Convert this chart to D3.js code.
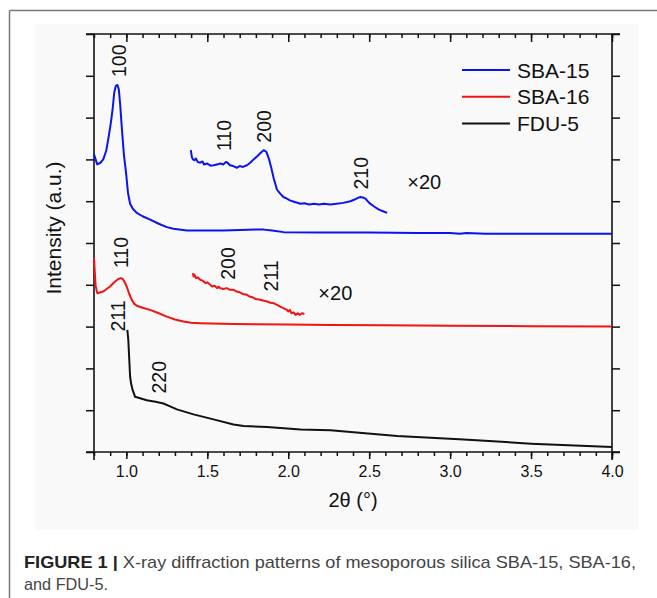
<!DOCTYPE html>
<meta charset="utf-8">
<style>
body { margin: 0; background: #fff; }
svg text { font-family: 'Liberation Sans', Arial, sans-serif; fill: #111; }
.caption { font-family: 'Liberation Sans', Arial, sans-serif; font-size: 17px; fill: #444; }
.caption .bold { font-weight: bold; fill: #222; }
</style>
<svg width="657" height="598"></svg>
<script src="https://cdn.jsdelivr.net/npm/d3@7"></script>
<script>

// SBA-15 (blue) main pattern
var sba15X = [0.80, 0.82, 0.84, 0.857, 0.875, 0.888, 0.905, 0.915, 0.925, 0.935, 0.945, 0.953, 0.962, 0.971, 0.985, 0.998, 1.01, 1.023, 1.04, 1.064, 1.10, 1.147, 1.20, 1.25, 1.291, 1.374, 1.50, 1.60, 1.70, 1.80, 1.85, 1.90, 1.972, 2.2, 2.5, 2.8, 3.0, 3.06, 3.1, 3.22, 3.5, 4.0];
var sba15Y = [7.12, 6.88, 6.92, 7.0, 7.2, 7.48, 7.9, 8.2, 8.6, 8.76, 8.78, 8.68, 8.3, 7.8, 7.1, 6.68, 6.2, 5.94, 5.82, 5.72, 5.64, 5.56, 5.46, 5.38, 5.34, 5.30, 5.30, 5.30, 5.31, 5.32, 5.32, 5.30, 5.26, 5.25, 5.25, 5.24, 5.24, 5.22, 5.24, 5.22, 5.22, 5.22];

// SBA-15 x20 inset
var sba15InsetX = [1.398, 1.405, 1.411, 1.42, 1.43, 1.44, 1.456, 1.47, 1.48, 1.50, 1.52, 1.538, 1.56, 1.58, 1.60, 1.615, 1.625, 1.64, 1.66, 1.683, 1.70, 1.72, 1.745, 1.765, 1.786, 1.81, 1.83, 1.848, 1.865, 1.88, 1.895, 1.91, 1.93, 1.95, 1.97, 1.992, 2.01, 2.04, 2.076, 2.10, 2.13, 2.16, 2.19, 2.22, 2.26, 2.30, 2.34, 2.384, 2.41, 2.43, 2.446, 2.46, 2.477, 2.50, 2.528, 2.56, 2.585, 2.611];
var sba15InsetY = [7.22, 7.05, 7.0, 6.98, 7.02, 6.94, 6.92, 6.95, 6.88, 6.90, 6.85, 6.86, 6.88, 6.90, 6.88, 6.94, 6.92, 6.86, 6.84, 6.80, 6.84, 6.82, 6.86, 6.92, 7.0, 7.08, 7.16, 7.22, 7.18, 7.02, 6.80, 6.55, 6.28, 6.18, 6.10, 6.06, 6.02, 5.98, 5.94, 5.95, 5.92, 5.94, 5.92, 5.94, 5.92, 5.94, 5.96, 6.0, 6.04, 6.08, 6.1, 6.09, 6.06, 5.96, 5.88, 5.80, 5.76, 5.72];

// SBA-16 (red) main pattern
var sba16X = [0.80, 0.805, 0.81, 0.82, 0.84, 0.857, 0.878, 0.899, 0.925, 0.95, 0.965, 0.978, 0.99, 1.002, 1.018, 1.033, 1.048, 1.064, 1.10, 1.147, 1.20, 1.25, 1.30, 1.353, 1.40, 1.456, 1.662, 2.0, 2.26, 2.6, 3.0, 3.5, 4.0];
var sba16Y = [4.64, 4.30, 3.98, 3.80, 3.82, 3.84, 3.90, 3.96, 4.06, 4.14, 4.16, 4.14, 4.06, 3.96, 3.78, 3.64, 3.55, 3.50, 3.45, 3.40, 3.32, 3.24, 3.17, 3.12, 3.09, 3.08, 3.06, 3.05, 3.04, 3.03, 3.02, 3.01, 3.0];

// SBA-16 x20 inset
var sba16InsetX = [1.411, 1.415, 1.42, 1.43, 1.44, 1.456, 1.47, 1.49, 1.50, 1.518, 1.53, 1.545, 1.56, 1.57, 1.58, 1.60, 1.62, 1.64, 1.662, 1.68, 1.70, 1.72, 1.745, 1.76, 1.78, 1.80, 1.827, 1.85, 1.87, 1.89, 1.91, 1.93, 1.95, 1.97, 1.992, 2.0, 2.01, 2.02, 2.033, 2.045, 2.06, 2.07, 2.085, 2.10];
var sba16InsetY = [4.28, 4.20, 4.24, 4.16, 4.18, 4.12, 4.10, 4.04, 4.06, 4.0, 3.96, 3.98, 3.92, 3.95, 3.92, 3.90, 3.92, 3.88, 3.88, 3.84, 3.82, 3.78, 3.76, 3.72, 3.70, 3.66, 3.64, 3.62, 3.60, 3.57, 3.56, 3.52, 3.48, 3.44, 3.40, 3.36, 3.40, 3.32, 3.34, 3.28, 3.32, 3.28, 3.32, 3.30];

// FDU-5 (black)
var fduX = [1.006, 1.012, 1.018, 1.023, 1.03, 1.039, 1.054, 1.09, 1.126, 1.18, 1.229, 1.27, 1.312, 1.415, 1.538, 1.662, 1.724, 1.869, 2.076, 2.26, 2.673, 3.085, 3.5, 4.0];
var fduY = [2.92, 2.68, 2.2, 1.80, 1.62, 1.48, 1.32, 1.28, 1.24, 1.20, 1.16, 1.09, 1.02, 0.90, 0.78, 0.66, 0.62, 0.60, 0.54, 0.52, 0.38, 0.30, 0.20, 0.12];

// peak labels: text, x, y (bottom of rotated text)
var peakText = ["100", "110", "200", "210", "110", "200", "211", "211", "220"];
var peakX    = [0.955, 1.604, 1.852, 2.45, 0.967, 1.626, 1.895, 0.945, 1.202];
var peakY    = [8.97, 7.2, 7.4, 6.28, 4.4, 4.12, 3.84, 2.88, 1.4];

var scaleText = ["\u00d720", "\u00d720"];
var scaleX = [2.735, 2.186];
var scaleY = [6.28, 3.64];

var seriesNames = ["SBA-15", "SBA-16", "FDU-5"];
var seriesColors = ["#0a14f0", "#f01414", "#111"];
var xTicks = [1.0, 1.5, 2.0, 2.5, 3.0, 3.5, 4.0];

var svg = d3.select("svg");

// figure frame + pasted image background
svg.append("rect").attr("x", 35).attr("y", 24).attr("width", 603).attr("height", 506).attr("fill", "#f9f9f9");
svg.append("line").attr("x1", 9.5).attr("x2", 657).attr("y1", 10.5).attr("y2", 10.5).attr("stroke", "#777").attr("stroke-width", 1.5);
svg.append("line").attr("x1", 9.5).attr("x2", 9.5).attr("y1", 10.5).attr("y2", 598).attr("stroke", "#777").attr("stroke-width", 1.5);

var margin = {left: 94, top: 34, right: 612, bottom: 452};

var x = d3.scaleLinear().domain([0.8, 4.0]).range([margin.left, margin.right]);
var y = d3.scaleLinear().domain([0, 10]).range([margin.bottom, margin.top]);

var minor = d3.range(8, 41).map(function(d) { return d / 10; });
var yTicks = d3.range(0, 11);

// bottom axis
var gb = svg.append("g").attr("transform", "translate(0," + margin.bottom + ")");
gb.call(d3.axisBottom(x).tickValues(minor).tickSize(4).tickFormat(""));
gb.append("g").call(d3.axisBottom(x).tickValues(xTicks).tickSize(7).tickFormat(d3.format(".1f")));

// top axis (ticks inward)
var gt = svg.append("g").attr("transform", "translate(0," + margin.top + ")");
gt.call(d3.axisBottom(x).tickValues(minor).tickSize(4).tickFormat(""));
gt.append("g").call(d3.axisBottom(x).tickValues(xTicks).tickSize(8).tickFormat(""));

// left / right axes
svg.append("g").attr("transform", "translate(" + margin.left + ",0)")
    .call(d3.axisLeft(y).tickValues(yTicks).tickSize(8).tickFormat(""));
svg.append("g").attr("transform", "translate(" + margin.right + ",0)")
    .call(d3.axisRight(y).tickValues(yTicks).tickSize(8).tickFormat(""));

svg.selectAll(".domain").attr("stroke", "none");
svg.selectAll(".tick line").attr("stroke", "#111").attr("stroke-width", 1.5);
gb.selectAll(".tick text").attr("font-size", 16).attr("dy", "0.95em").attr("fill", "#111");

// frame lines, extended a bit like the original
[[margin.left - 8, margin.top, margin.right + 8, margin.top],
 [margin.left - 8, margin.bottom, margin.right + 8, margin.bottom],
 [margin.left, margin.top, margin.left, margin.bottom + 8],
 [margin.right, margin.top, margin.right, margin.bottom + 8]].forEach(function(l) {
    svg.append("line").attr("x1", l[0]).attr("y1", l[1]).attr("x2", l[2]).attr("y2", l[3])
        .attr("stroke", "#111").attr("stroke-width", 1.6);
});

var line = d3.line()
    .x(function(d) { return x(d[0]); })
    .y(function(d) { return y(d[1]); });

function drawSeries(xs, ys, color) {
    svg.append("path")
        .datum(d3.zip(xs, ys))
        .attr("fill", "none")
        .attr("stroke", color)
        .attr("stroke-width", 2)
        .attr("stroke-linejoin", "round")
        .attr("d", line);
}

drawSeries(sba15X, sba15Y, seriesColors[0]);
drawSeries(sba15InsetX, sba15InsetY, seriesColors[0]);
drawSeries(sba16X, sba16Y, seriesColors[1]);
drawSeries(sba16InsetX, sba16InsetY, seriesColors[1]);
drawSeries(fduX, fduY, seriesColors[2]);

// peak labels
peakText.forEach(function(t, i) {
    svg.append("text")
        .attr("transform", "translate(" + x(peakX[i]) + "," + y(peakY[i]) + ") rotate(-90)")
        .attr("dy", "0.36em")
        .attr("font-size", 19.5)
        .text(t);
});

scaleText.forEach(function(t, i) {
    svg.append("text")
        .attr("x", x(scaleX[i]))
        .attr("y", y(scaleY[i]))
        .attr("font-size", 20)
        .text(t);
});

// legend
var legend = svg.append("g").attr("transform", "translate(462,70)");
seriesNames.forEach(function(n, i) {
    var g = legend.append("g").attr("transform", "translate(0," + (i * 26.7) + ")");
    g.append("line").attr("x1", 0).attr("x2", 48).attr("stroke", seriesColors[i]).attr("stroke-width", 2);
    g.append("text").attr("x", 55).attr("dy", "0.36em").attr("font-size", 21).text(n);
});

// axis titles
svg.append("text")
    .attr("x", (margin.left + margin.right) / 2)
    .attr("y", 507)
    .attr("text-anchor", "middle")
    .attr("font-size", 20)
    .text("2\u03b8 (\u00b0)");

svg.append("text")
    .attr("transform", "translate(53,228) rotate(-90)")
    .attr("text-anchor", "middle")
    .attr("dy", "0.36em")
    .attr("font-size", 21)
    .text("Intensity (a.u.)");

// caption
var cap = svg.append("text").attr("class", "caption").attr("x", 24).attr("y", 568)
    .attr("textLength", 612).attr("lengthAdjust", "spacingAndGlyphs");
cap.append("tspan").attr("class", "bold").text("FIGURE 1 | ");
cap.append("tspan").text("X-ray diffraction patterns of mesoporous silica SBA-15, SBA-16,");
svg.append("text").attr("class", "caption").attr("x", 24).attr("y", 590)
    .attr("textLength", 84).attr("lengthAdjust", "spacingAndGlyphs").text("and FDU-5.");

</script>
